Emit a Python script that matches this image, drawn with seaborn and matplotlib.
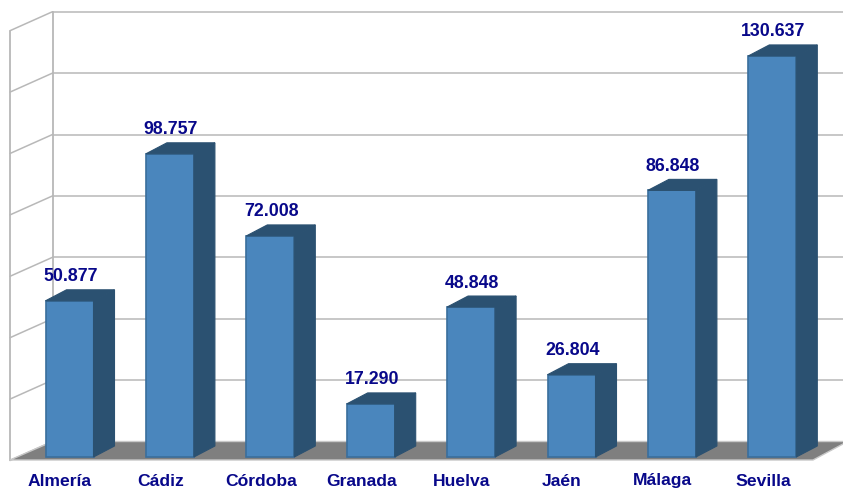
import numpy as np
import matplotlib
matplotlib.use("Agg")
import matplotlib.pyplot as plt
from matplotlib.patches import Polygon
import seaborn as sns

provinces = ["Almería", "Cádiz", "Córdoba", "Granada", "Huelva", "Jaén", "Málaga", "Sevilla"]
values = [50.877, 98.757, 72.008, 17.290, 48.848, 26.804, 86.848, 130.637]
value_labels = ["50.877", "98.757", "72.008", "17.290", "48.848", "26.804", "86.848", "130.637"]
grid_levels = [0, 20, 40, 60, 80, 100, 120, 140]

FRONT = "#4a86bd"
SIDE = "#2b5171"
EDGE = "#3a6e9c"
WALL = "#b8b8b8"
FLOOR = "#7f7f7f"
TEXT = "#08088a"

sns.set_style("white")
plt.rcParams["font.family"] = ["Liberation Sans", "DejaVu Sans"]

fig = plt.figure(figsize=(8.43, 4.92), dpi=100)
ax = fig.add_axes([0, 0, 1, 1])

# pixel -> data scale (100.4 px per category, 3.07 px per unit)
px_x = 100.4
px_y = 3.07
bar_w = 48 / px_x
bar_dx = 21 / px_x          # depth of the bars
bar_dy = 11 / px_y
wall_x = -17 / px_x         # back wall left edge
wall_dy = 15.5 / px_y       # back wall raised above the front
front_x = -59.5 / px_x      # front edge of the left wall
front_dy = -3 / px_y        # floor front edge
right_back = 7.75
right_front = (813 - 69.5) / px_x

# floor
floor = Polygon([(front_x, front_dy), (wall_x, wall_dy), (right_back, wall_dy),
                 (right_front, front_dy)], closed=True, facecolor=FLOOR,
                edgecolor="#c8c8c8", lw=1, zorder=0.5)
ax.add_patch(floor)

# back wall gridlines and left wall diagonals
left_drop = 19 / px_y
for g in grid_levels:
    yb = g + wall_dy
    if g > 0:
        ax.plot([wall_x, right_back], [yb, yb], color=WALL, lw=1.1, zorder=0.3)
    ax.plot([front_x, wall_x], [yb - left_drop, yb], color=WALL, lw=1.1, zorder=0.3)
top = grid_levels[-1] + wall_dy
ax.plot([wall_x, wall_x], [wall_dy, top], color=WALL, lw=1.3, zorder=0.3)
ax.plot([front_x, front_x], [front_dy, top - left_drop], color=WALL, lw=1.3, zorder=0.3)

# bars (front faces)
sns.barplot(x=provinces, y=values, color=FRONT, saturation=1, width=bar_w,
            ax=ax, zorder=2)
for p in ax.patches:
    if p is floor:
        continue
    p.set_edgecolor(EDGE)
    p.set_linewidth(1.2)

# bar sides, tops and labels
for i, v in enumerate(values):
    x0 = i - bar_w / 2
    x1 = i + bar_w / 2
    side = Polygon([(x1, 0), (x1 + bar_dx, bar_dy), (x1 + bar_dx, v + bar_dy), (x1, v)],
                   closed=True, facecolor=SIDE, edgecolor=SIDE, lw=0.8, zorder=2)
    topf = Polygon([(x0, v), (x0 + bar_dx, v + bar_dy), (x1 + bar_dx, v + bar_dy), (x1, v)],
                   closed=True, facecolor=SIDE, edgecolor=SIDE, lw=0.8, zorder=2)
    ax.add_patch(side)
    ax.add_patch(topf)
    ax.text(i + 0.01, v + bar_dy + 4.5 / px_y, value_labels[i], ha="center", va="bottom",
            fontsize=12.8, fontweight="bold", color=TEXT, zorder=3)
    ax.text(i - 0.095, -24 / px_y, provinces[i], ha="center", va="center",
            fontsize=12.6, fontweight="bold", color=TEXT, zorder=3)

ax.set_xlim(-69.5 / px_x, (843 - 69.5) / px_x)
ax.set_ylim(-35 / px_y, (492 - 35) / px_y)
ax.axis("off")

fig.savefig("out.png", dpi=100)
